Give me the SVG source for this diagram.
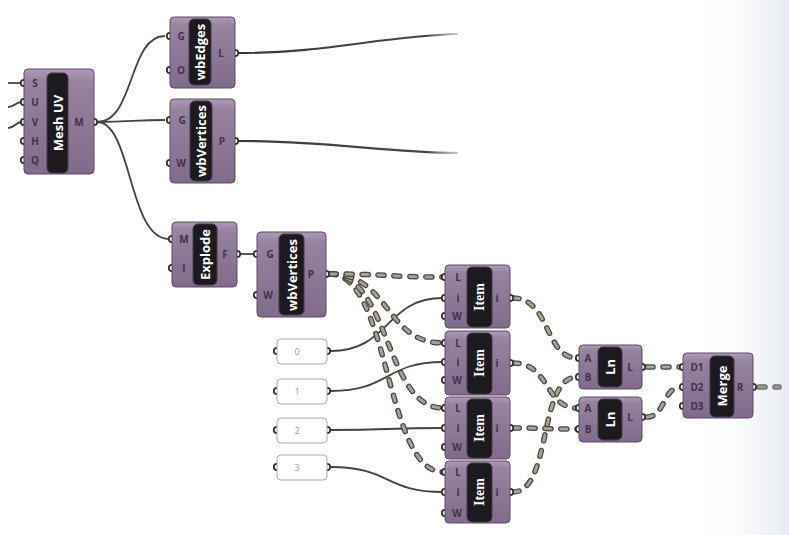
<svg xmlns="http://www.w3.org/2000/svg" width="789" height="535" viewBox="0 0 789 535">
<defs>
<linearGradient id="bodyG" x1="0" y1="0" x2="0" y2="1">
<stop offset="0" stop-color="#ae9bb6"/>
<stop offset="0.12" stop-color="#9583a0"/>
<stop offset="1" stop-color="#806c8a"/>
</linearGradient>
<linearGradient id="bgR" x1="0" y1="0" x2="1" y2="0">
<stop offset="0" stop-color="#ffffff" stop-opacity="0"/>
<stop offset="1" stop-color="#e6eaf0"/>
</linearGradient>
<linearGradient id="fadeL" x1="238" y1="0" x2="460" y2="0" gradientUnits="userSpaceOnUse">
<stop offset="0" stop-color="#3f3a36"/>
<stop offset="0.85" stop-color="#4a4540"/>
<stop offset="1" stop-color="#6a6560" stop-opacity="0.3"/>
</linearGradient>
<style>
.body{fill:url(#bodyG);stroke:#5c4a66;stroke-width:1}
.cap{fill:#1d1a1f;stroke:#463a4c;stroke-width:1}
.lbl{font-family:"Open Sans","Liberation Sans",sans-serif;font-weight:bold;font-size:13px;fill:#ffffff;text-anchor:middle;dominant-baseline:central}
.ser{font-family:"Liberation Serif","DejaVu Serif",serif;font-size:14px}
.pin{font-family:"Open Sans","Liberation Sans",sans-serif;font-weight:bold;font-size:10px;fill:#44304f;text-anchor:middle}
.grip{fill:#ffffff;stroke:#2c2c2c;stroke-width:1.7}
.w{fill:none;stroke:#47423d;stroke-width:1.8}
.d1{fill:none;stroke:#4b4641;stroke-width:5.5;stroke-dasharray:6 10;stroke-linecap:round}
.d2{fill:none;stroke:#a8a197;stroke-width:3;stroke-dasharray:6 10;stroke-linecap:round}
.panel{fill:#ffffff;stroke:#a9a9a9;stroke-width:1}
.ptxt{font-family:"Open Sans","Liberation Sans",sans-serif;font-size:9px;fill:#9a9a9a;text-anchor:middle}
</style>
<path id="dP1" d="M330,274 C390,274 385,277 443,277"/>
<path id="dP2" d="M330,274 C390,274 385,343 443,343"/>
<path id="dP3" d="M330,274 C390,274 385,408 443,408"/>
<path id="dP4" d="M330,274 C390,274 385,472 443,472"/>
<path id="dI1" d="M513,298 C550,298 545,358 577,358"/>
<path id="dI2" d="M513,363 C550,363 545,408 577,408"/>
<path id="dI3" d="M513,428 C545,428 545,429 577,429"/>
<path id="dI4" d="M513,492 C552,492 538,377 577,377"/>
<path id="dL1" d="M647,367 L681,367"/>
<path id="dL2" d="M647,417 C665,417 663,387 681,387"/>
<path id="dR" d="M759,387 L779,387"/>
</defs>
<rect x="0" y="0" width="789" height="535" fill="#ffffff"/>
<rect x="690" y="0" width="99" height="535" fill="url(#bgR)"/>

<g id="connectors">
<path class="w" d="M8,83 L22,83"/>
<path class="w" d="M8,107 C15,107 15,102 22,102"/>
<path class="w" d="M8,128 C15,128 15,122 22,122"/>
<path class="w" d="M97,122 C135,122 128,36 165,36"/>
<path class="w" d="M97,122 C130,122 135,120 165,120"/>
<path class="w" d="M97,122 C132,122 128,239 169,239"/>
<path d="M238,53 C330,53 380,36 458,34" fill="none" stroke="url(#fadeL)" stroke-width="2.2"/>
<path d="M238,141 C330,141 380,152 458,153" fill="none" stroke="url(#fadeL)" stroke-width="2.2"/>
<path class="w" d="M240,254 L254,254" stroke-width="3"/>
<path class="w" d="M331,351 C390,351 385,298 443,298"/>
<path class="w" d="M331,391 C390,391 385,362 443,362"/>
<path class="w" d="M331,430 C390,430 385,428 443,428"/>
<path class="w" d="M331,467 C390,467 385,492 443,492"/>
<use href="#dP4" class="d1"/><use href="#dP4" class="d2"/>
<use href="#dP3" class="d1"/><use href="#dP3" class="d2"/>
<use href="#dP2" class="d1"/><use href="#dP2" class="d2"/>
<use href="#dP1" class="d1"/><use href="#dP1" class="d2"/>
<use href="#dI4" class="d1"/><use href="#dI4" class="d2"/>
<use href="#dI3" class="d1"/><use href="#dI3" class="d2"/>
<use href="#dI2" class="d1"/><use href="#dI2" class="d2"/>
<use href="#dI1" class="d1"/><use href="#dI1" class="d2"/>
<use href="#dL1" class="d1"/><use href="#dL1" class="d2"/>
<use href="#dL2" class="d1"/><use href="#dL2" class="d2"/>
<use href="#dR" class="d1" opacity="0.8"/><use href="#dR" class="d2" opacity="0.8"/>
</g>

<g id="meshuv">
<circle class="grip" cx="24" cy="83" r="3.2"/>
<circle class="grip" cx="24" cy="102" r="3.2"/>
<circle class="grip" cx="24" cy="122" r="3.2"/>
<circle class="grip" cx="24" cy="141" r="3.2"/>
<circle class="grip" cx="24" cy="160" r="3.2"/>
<circle class="grip" cx="94" cy="122" r="3.2"/>
<rect class="body" x="24" y="69" width="70" height="105" rx="4"/>
<rect class="cap" x="47" y="73" width="21" height="100" rx="5"/>
<text class="lbl" transform="translate(57.5,123) rotate(-90)">Mesh UV</text>
<text class="pin" x="35" y="86.5">S</text>
<text class="pin" x="35" y="105.5">U</text>
<text class="pin" x="35" y="125.5">V</text>
<text class="pin" x="35" y="144.5">H</text>
<text class="pin" x="35" y="163.5">Q</text>
<text class="pin" x="79" y="125.5">M</text>
</g>

<g id="wbedges">
<circle class="grip" cx="170" cy="36" r="3.2"/>
<circle class="grip" cx="170" cy="70" r="3.2"/>
<circle class="grip" cx="235" cy="53" r="3.2"/>
<rect class="body" x="170" y="17" width="65" height="71" rx="4"/>
<rect class="cap" x="189" y="19" width="22" height="66" rx="5"/>
<text class="lbl" transform="translate(200,52) rotate(-90)">wbEdges</text>
<text class="pin" x="181" y="39.5">G</text>
<text class="pin" x="181" y="73.5">O</text>
<text class="pin" x="221" y="56.5">L</text>
</g>

<g id="wbvertices1">
<circle class="grip" cx="170" cy="120" r="3.2"/>
<circle class="grip" cx="170" cy="163" r="3.2"/>
<circle class="grip" cx="235" cy="141" r="3.2"/>
<rect class="body" x="170" y="99" width="65" height="84" rx="4"/>
<rect class="cap" x="190" y="101" width="22" height="80" rx="5"/>
<text class="lbl" transform="translate(201,141) rotate(-90)">wbVertices</text>
<text class="pin" x="182" y="123.5">G</text>
<text class="pin" x="181" y="166.5">W</text>
<text class="pin" x="222" y="144.5">P</text>
</g>

<g id="explode">
<circle class="grip" cx="172" cy="239" r="3.2"/>
<circle class="grip" cx="172" cy="268" r="3.2"/>
<circle class="grip" cx="237" cy="254" r="3.2"/>
<rect class="body" x="172" y="222" width="65" height="65" rx="4"/>
<rect class="cap" x="193" y="224" width="24" height="61" rx="5"/>
<text class="lbl" transform="translate(205,254.5) rotate(-90)">Explode</text>
<text class="pin" x="184" y="242.5">M</text>
<text class="pin" x="184" y="271.5">I</text>
<text class="pin" x="225" y="257.5">F</text>
</g>

<g id="wbvertices2">
<circle class="grip" cx="257" cy="254" r="3.2"/>
<circle class="grip" cx="257" cy="295" r="3.2"/>
<circle class="grip" cx="326" cy="274" r="3.2"/>
<rect class="body" x="257" y="232" width="69" height="85" rx="4"/>
<rect class="cap" x="279" y="234" width="25" height="81" rx="5"/>
<text class="lbl" transform="translate(291.5,275) rotate(-90)">wbVertices</text>
<text class="pin" x="270" y="257.5">G</text>
<text class="pin" x="268" y="298.5">W</text>
<text class="pin" x="311" y="277.5">P</text>
</g>

<g id="panel0">
<circle class="grip" cx="277" cy="351" r="3.2"/>
<circle class="grip" cx="327" cy="351" r="3.2"/>
<rect class="panel" x="277" y="339" width="50" height="25" rx="4"/>
<text class="ptxt" x="297" y="354.5">0</text>
</g>
<g id="panel1">
<circle class="grip" cx="277" cy="391" r="3.2"/>
<circle class="grip" cx="327" cy="391" r="3.2"/>
<rect class="panel" x="277" y="379" width="50" height="25" rx="4"/>
<text class="ptxt" x="297" y="394.5">1</text>
</g>
<g id="panel2">
<circle class="grip" cx="277" cy="430" r="3.2"/>
<circle class="grip" cx="327" cy="430" r="3.2"/>
<rect class="panel" x="277" y="418" width="50" height="25" rx="4"/>
<text class="ptxt" x="297" y="433.5">2</text>
</g>
<g id="panel3">
<circle class="grip" cx="277" cy="467" r="3.2"/>
<circle class="grip" cx="327" cy="467" r="3.2"/>
<rect class="panel" x="277" y="455" width="50" height="25" rx="4"/>
<text class="ptxt" x="297" y="470.5">3</text>
</g>

<g id="item1">
<circle class="grip" cx="445" cy="277" r="3.2"/>
<circle class="grip" cx="445" cy="298" r="3.2"/>
<circle class="grip" cx="445" cy="316" r="3.2"/>
<circle class="grip" cx="510" cy="298" r="3.2"/>
<rect class="body" x="445" y="265" width="65" height="63" rx="4"/>
<rect class="cap" x="467" y="267" width="25" height="60" rx="5"/>
<text class="lbl ser" transform="translate(479.5,297) rotate(-90)">Item</text>
<text class="pin" x="458" y="280.5">L</text>
<text class="pin" x="458" y="301.5">i</text>
<text class="pin" x="457" y="319.5">W</text>
<text class="pin" x="497" y="301.5">i</text>
</g>
<g id="item2">
<circle class="grip" cx="445" cy="343" r="3.2"/>
<circle class="grip" cx="445" cy="362" r="3.2"/>
<circle class="grip" cx="445" cy="380" r="3.2"/>
<circle class="grip" cx="510" cy="363" r="3.2"/>
<rect class="body" x="445" y="331" width="65" height="64" rx="4"/>
<rect class="cap" x="467" y="333" width="25" height="61" rx="5"/>
<text class="lbl ser" transform="translate(479.5,363) rotate(-90)">Item</text>
<text class="pin" x="458" y="346.5">L</text>
<text class="pin" x="458" y="365.5">i</text>
<text class="pin" x="457" y="383.5">W</text>
<text class="pin" x="497" y="366.5">i</text>
</g>
<g id="item3">
<circle class="grip" cx="445" cy="408" r="3.2"/>
<circle class="grip" cx="445" cy="428" r="3.2"/>
<circle class="grip" cx="445" cy="447" r="3.2"/>
<circle class="grip" cx="510" cy="428" r="3.2"/>
<rect class="body" x="445" y="397" width="65" height="62" rx="4"/>
<rect class="cap" x="467" y="399" width="25" height="59" rx="5"/>
<text class="lbl ser" transform="translate(479.5,428) rotate(-90)">Item</text>
<text class="pin" x="458" y="411.5">L</text>
<text class="pin" x="458" y="431.5">i</text>
<text class="pin" x="457" y="450.5">W</text>
<text class="pin" x="497" y="431.5">i</text>
</g>
<g id="item4">
<circle class="grip" cx="445" cy="472" r="3.2"/>
<circle class="grip" cx="445" cy="492" r="3.2"/>
<circle class="grip" cx="445" cy="513" r="3.2"/>
<circle class="grip" cx="510" cy="492" r="3.2"/>
<rect class="body" x="445" y="461" width="65" height="62" rx="4"/>
<rect class="cap" x="467" y="463" width="25" height="59" rx="5"/>
<text class="lbl ser" transform="translate(479.5,492) rotate(-90)">Item</text>
<text class="pin" x="458" y="475.5">L</text>
<text class="pin" x="458" y="495.5">i</text>
<text class="pin" x="457" y="516.5">W</text>
<text class="pin" x="497" y="495.5">i</text>
</g>

<g id="ln1">
<circle class="grip" cx="579" cy="358" r="3.2"/>
<circle class="grip" cx="579" cy="377" r="3.2"/>
<circle class="grip" cx="642" cy="367" r="3.2"/>
<rect class="body" x="579" y="345" width="63" height="44" rx="4"/>
<rect class="cap" x="598" y="347" width="24" height="40" rx="5"/>
<text class="lbl" transform="translate(610,367) rotate(-90)">Ln</text>
<text class="pin" x="588" y="361.5">A</text>
<text class="pin" x="588" y="380.5">B</text>
<text class="pin" x="630" y="370.5">L</text>
</g>
<g id="ln2">
<circle class="grip" cx="579" cy="408" r="3.2"/>
<circle class="grip" cx="579" cy="429" r="3.2"/>
<circle class="grip" cx="642" cy="417" r="3.2"/>
<rect class="body" x="579" y="397" width="63" height="45" rx="4"/>
<rect class="cap" x="598" y="399" width="24" height="41" rx="5"/>
<text class="lbl" transform="translate(610,419.5) rotate(-90)">Ln</text>
<text class="pin" x="588" y="411.5">A</text>
<text class="pin" x="588" y="432.5">B</text>
<text class="pin" x="630" y="420.5">L</text>
</g>

<g id="merge">
<circle class="grip" cx="683" cy="367" r="3.2"/>
<circle class="grip" cx="683" cy="387" r="3.2"/>
<circle class="grip" cx="683" cy="406" r="3.2"/>
<circle class="grip" cx="753" cy="387" r="3.2"/>
<rect class="body" x="683" y="353" width="70" height="65" rx="4"/>
<rect class="cap" x="710" y="356" width="24" height="61" rx="5"/>
<text class="lbl" transform="translate(722,386) rotate(-90)">Merge</text>
<text class="pin" x="697" y="370.5">D1</text>
<text class="pin" x="697" y="390.5">D2</text>
<text class="pin" x="697" y="409.5">D3</text>
<text class="pin" x="740" y="390.5">R</text>
</g>
</svg>
